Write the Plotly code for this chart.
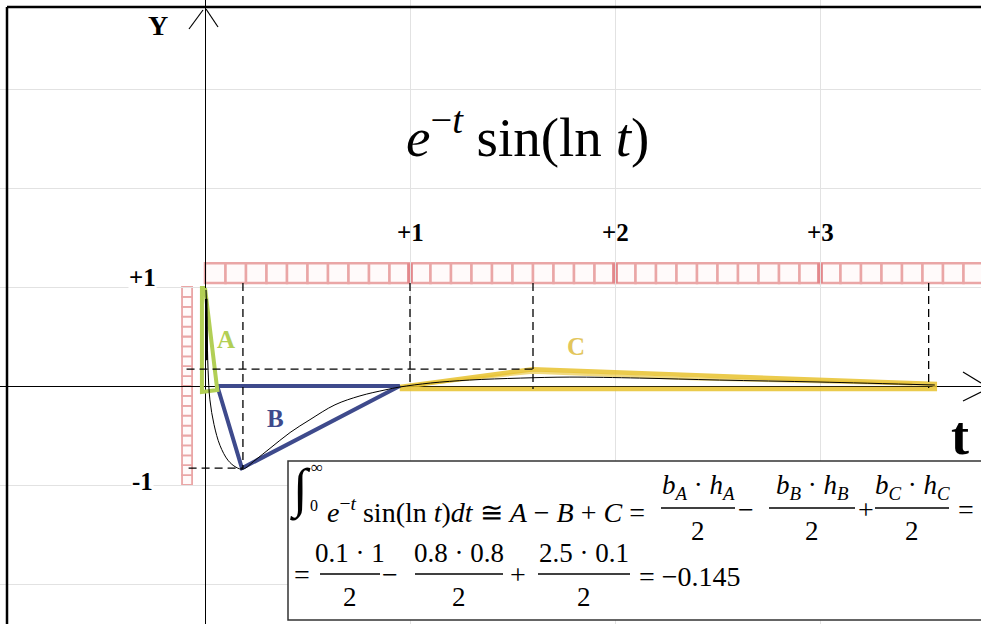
import plotly.graph_objects as go

# ---- data (t, y) ----
# hand-traced curve of e^{-t} sin(ln t)
curve_t = [0.005, 0.01, 0.015, 0.024, 0.044, 0.073, 0.112, 0.151, 0.185, 0.244, 0.317,
           0.415, 0.512, 0.634, 0.756, 0.878, 0.951, 1.10, 1.29, 1.54, 1.78, 2.12,
           2.51, 3.0, 3.56]
curve_y = [0.97, 0.57, 0.16, -0.14, -0.39, -0.60, -0.75, -0.82, -0.84, -0.75, -0.63,
           -0.47, -0.34, -0.19, -0.10, -0.04, -0.01, 0.03, 0.06, 0.08, 0.09, 0.08,
           0.06, 0.04, 0.01]
# steep part right next to t = 0
near0_t = [0.006, 0.008]
near0_y = [0.88, 0.26]

# approximating triangles A, B, C
tri_a_t = [0.0, -0.015, -0.015, 0.06, 0.0]
tri_a_y = [0.99, 0.99, -0.06, -0.04, 0.99]
tri_b_t = [0.06, 0.18, 0.95, 0.06]
tri_b_y = [0.0, -0.83, 0.0, 0.0]
tri_c_t = [0.95, 1.6, 3.56, 3.56, 0.95]
tri_c_y = [-0.01, 0.17, 0.02, -0.03, -0.03]
tri_c2_t = [1.02, 1.6, 2.4, 3.45]
tri_c2_y = [0.01, 0.14, 0.07, 0.02]

# dashed guides: vertical (t, bottom y), horizontal (y, t from, t to)
vguide_t = [0.185, 1.0, 1.6, 3.53]
vguide_bottom = [-0.83, 0.0, -0.03, -0.02]
hguide_y = [0.17, -0.83]
hguide_from = [-0.09, -0.08]
hguide_to = [1.6, 0.185]

# axis tick labels
top_tick_t = [1, 2, 3]
top_tick_text = ["+1", "+2", "+3"]
side_tick_y = [1, -1]
side_tick_text = ["+1", "-1"]

# labels of the triangles
tri_labels = ["A", "B", "C"]
tri_label_t = [0.1, 0.345, 1.81]
tri_label_y = [0.47, -0.33, 0.40]

# ---- geometry of the canvas ----
W, H = 981, 624
X0, XS = 205, 205      # pixel of t=0, pixels per unit t
Y0, YS = 386, 99       # pixel of y=0, pixels per unit y
x_range = [(0 - X0) / XS, (W - X0) / XS]
y_range = [(Y0 - H) / YS, Y0 / YS]


def P(x, y):
    """pixel -> paper coordinates"""
    return x / W, 1 - y / H


SERIF = "Liberation Serif, Times New Roman, serif"
GREEN, BLUE, GOLD = "#b2cf55", "#3e4a8c", "#e8c22e"
PINK, PINK_DARK = "#eaa6a6", "#e3878b"

fig = go.Figure()

# triangles
fig.add_trace(go.Scatter(x=tri_c_t, y=tri_c_y, mode="lines",
                         line=dict(color=GOLD, width=4.5), opacity=0.85))
fig.add_trace(go.Scatter(x=tri_c2_t, y=tri_c2_y, mode="lines",
                         line=dict(color=GOLD, width=3), opacity=0.6))
fig.add_trace(go.Scatter(x=tri_b_t, y=tri_b_y, mode="lines",
                         line=dict(color=BLUE, width=4)))
fig.add_trace(go.Scatter(x=tri_a_t, y=tri_a_y, mode="lines",
                         line=dict(color=GREEN, width=4)))

# dashed guides
for t, yb in zip(vguide_t, vguide_bottom):
    fig.add_trace(go.Scatter(x=[t, t], y=[1.04, yb], mode="lines",
                             line=dict(color="black", width=1.3, dash="8px,5px")))
for y, t0, t1 in zip(hguide_y, hguide_from, hguide_to):
    fig.add_trace(go.Scatter(x=[t0, t1], y=[y, y], mode="lines",
                             line=dict(color="black", width=1.3, dash="8px,5px")))

# the function itself
fig.add_trace(go.Scatter(x=curve_t, y=curve_y, mode="lines", line_shape="spline",
                         line=dict(color="black", width=1)))
fig.add_trace(go.Scatter(x=near0_t, y=near0_y, mode="lines",
                         line=dict(color="black", width=2.5)))

shapes = []

# horizontal ruler (t axis, steps of 0.1)
n_cells = int(round((x_range[1] + 0.1) / 0.1))
for k in range(n_cells):
    shapes.append(dict(type="rect", xref="x", yref="y", layer="below",
                       x0=k * 0.1, x1=(k + 1) * 0.1, y0=1.04, y1=1.24,
                       line=dict(color=PINK, width=2.5), fillcolor="#fffafa"))
for t in top_tick_t:
    shapes.append(dict(type="rect", xref="x", yref="y", layer="below",
                       x0=t - 0.014, x1=t + 0.014, y0=1.04, y1=1.24,
                       line=dict(width=0), fillcolor=PINK_DARK))
# vertical ruler (y axis, steps of 0.1)
for k in range(20):
    shapes.append(dict(type="rect", xref="x", yref="y", layer="below",
                       x0=-0.112, x1=-0.063, y0=-1 + k * 0.1, y1=-1 + (k + 1) * 0.1,
                       line=dict(color=PINK, width=1.8), fillcolor="#fffafa"))

# arrow heads of the axes
arrow_segments = [
    ((189, 29), (203, 10)), ((206, 9), (218, 27)),      # Y
    ((963, 372), (981, 383)), ((963, 401), (981, 392)),  # t
]
for (xa, ya), (xb, yb) in arrow_segments:
    shapes.append(dict(type="line", xref="x", yref="y", layer="above",
                       x0=(xa - X0) / XS, y0=(Y0 - ya) / YS,
                       x1=(xb - X0) / XS, y1=(Y0 - yb) / YS,
                       line=dict(color="black", width=1.2)))

# outer frame (left and top edges)
fx, fy = P(7, 7)
shapes.append(dict(type="line", xref="paper", yref="paper", x0=fx, x1=fx, y0=0, y1=fy,
                   line=dict(color="black", width=2.5), layer="above"))
shapes.append(dict(type="line", xref="paper", yref="paper", x0=fx, x1=1, y0=fy, y1=fy,
                   line=dict(color="black", width=2.5), layer="above"))

# formula box
bx0, by0 = P(288, 461)
bx1, by1 = P(990, 620)
shapes.append(dict(type="rect", xref="paper", yref="paper", x0=bx0, x1=bx1, y0=by1, y1=by0,
                   line=dict(color="#333333", width=1.5), fillcolor="white", layer="above"))

annotations = []


def text(x, y, s, size, color="black", xanchor="center", bold=False, bg=None):
    xp, yp = P(x, y)
    if bold:
        s = "<b>" + s + "</b>"
    d = dict(x=xp, y=yp, xref="paper", yref="paper", text=s, showarrow=False,
             xanchor=xanchor, yanchor="middle",
             font=dict(family=SERIF, size=size, color=color))
    if bg:
        d.update(bgcolor=bg, borderpad=0)
    annotations.append(d)


def frac(xc, ybar, num, den, half_width, size=27):
    xa, ya = P(xc - half_width, ybar)
    xb, _ = P(xc + half_width, ybar)
    shapes.append(dict(type="line", xref="paper", yref="paper", x0=xa, x1=xb, y0=ya, y1=ya,
                       line=dict(color="black", width=1.3), layer="above"))
    text(xc, ybar - 21, num, size)
    text(xc, ybar + 23, den, size)


# title
text(527, 133, "<i>e</i><sup>−<i>t</i></sup> sin(ln <i>t</i>)", 55)

# axis names
text(158, 26, "Y", 28, bold=True)
text(960, 436, "t", 54, bold=True)

# tick labels
for t, s in zip(top_tick_t, top_tick_text):
    text(X0 + t * XS, 232, s, 25, bold=True)
for y, s in zip(side_tick_y, side_tick_text):
    label_y = Y0 - y * YS - (10 if y > 0 else 4)
    text(142, label_y, s, 25, bold=True, bg="white")

# triangle labels
for lab, t, y, c in zip(tri_labels, tri_label_t, tri_label_y, [GREEN, BLUE, "#e3c65c"]):
    text(X0 + t * XS, Y0 - y * YS, lab, 25, color=c, bold=True)

# formula, line 1
text(300, 489, "∫", 54)
text(317, 467, "∞", 17)
text(314, 505, "0", 16)
text(325, 510, "<i>e</i><sup>−<i>t</i></sup> sin(ln <i>t</i>)<i>dt</i> ≅ <i>A</i> − <i>B</i> + <i>C</i> =",
     28, xanchor="left")
frac(698, 508, "<i>b<sub>A</sub></i> · <i>h<sub>A</sub></i>", "2", 37)
text(746, 509, "−", 28)
frac(812, 508, "<i>b<sub>B</sub></i> · <i>h<sub>B</sub></i>", "2", 43)
text(866, 509, "+", 28)
frac(912, 508, "<i>b<sub>C</sub></i> · <i>h<sub>C</sub></i>", "2", 37)
text(966, 509, "=", 28)

# formula, line 2
text(302, 574, "=", 28)
frac(350, 574, "0.1 · 1", "2", 30)
text(390, 574, "−", 28)
frac(459, 574, "0.8 · 0.8", "2", 44)
text(518, 574, "+", 28)
frac(584, 574, "2.5 · 0.1", "2", 46)
text(637, 576, "= −0.145", 28, xanchor="left")

fig.update_layout(
    width=W, height=H, margin=dict(l=0, r=0, t=0, b=0),
    paper_bgcolor="white", plot_bgcolor="white", showlegend=False,
    shapes=shapes, annotations=annotations,
    xaxis=dict(range=x_range, showgrid=True, gridcolor="#e2e2e2", gridwidth=1,
               tick0=0, dtick=1, showticklabels=False, ticks="",
               zeroline=True, zerolinecolor="black", zerolinewidth=1.2, fixedrange=True),
    yaxis=dict(range=y_range, showgrid=True, gridcolor="#e2e2e2", gridwidth=1,
               tick0=0, dtick=1, showticklabels=False, ticks="",
               zeroline=True, zerolinecolor="black", zerolinewidth=1.2, fixedrange=True),
)

fig.write_html("out.html", config=dict(displayModeBar=False))
